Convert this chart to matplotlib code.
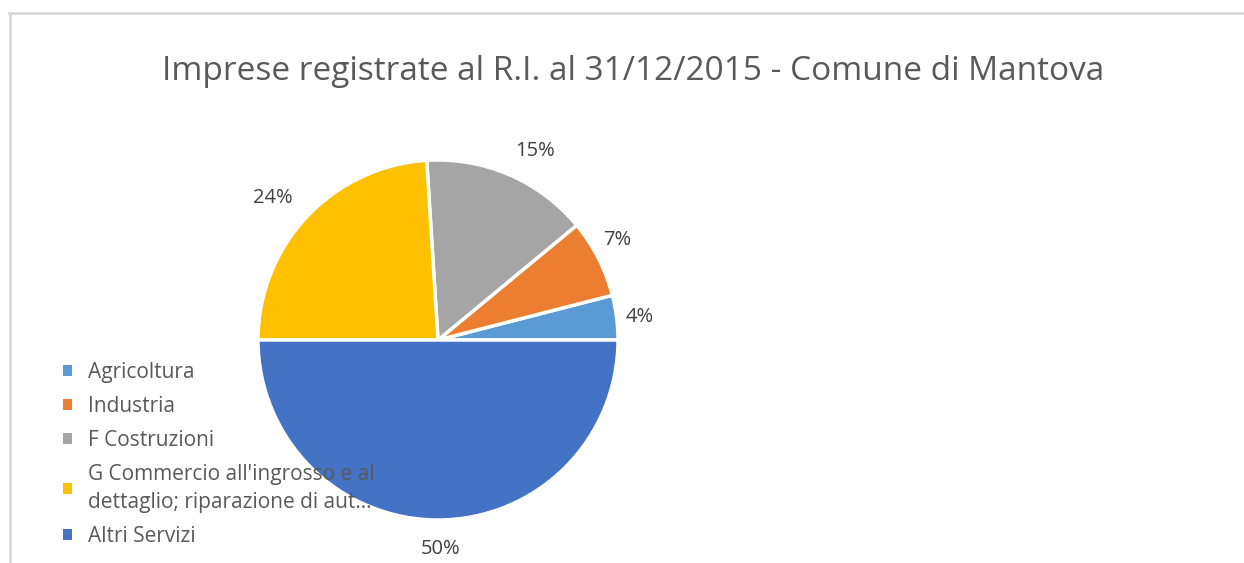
import matplotlib.pyplot as plt
from matplotlib.lines import Line2D
from matplotlib.patches import Patch

# Data
categories = ["Agricoltura", "Industria", "F Costruzioni",
              "G Commercio all'ingrosso e al\ndettaglio; riparazione di aut...",
              "Altri Servizi"]
shares = [4, 7, 15, 24, 50]
colors = ["#5B9BD5", "#ED7D31", "#A5A5A5", "#FFC000", "#4472C4"]

W, H = 1244, 563
fig = plt.figure(figsize=(W / 100, H / 100), dpi=100)
plt.rcParams['font.family'] = ['Open Sans', 'DejaVu Sans']

# chart border (top and left visible)
fig.add_artist(Line2D([9 / W, 1], [1 - 12.5 / H, 1 - 12.5 / H], color="#D9D9D9", lw=2, transform=fig.transFigure))
fig.add_artist(Line2D([9.5 / W, 9.5 / W], [0, 1 - 12.5 / H], color="#D9D9D9", lw=2, transform=fig.transFigure))

# pie axes: centre (438, 340), radius 180 px, limits +-1.25
cx, cy, r = 438, 340, 180
half = r * 1.25
ax = fig.add_axes([(cx - half) / W, (H - cy - half) / H, 2 * half / W, 2 * half / H])

wedges, texts, autotexts = ax.pie(
    shares, colors=colors, startangle=0, counterclock=True,
    autopct=lambda p: f"{p:.0f}%", pctdistance=1.14,
    wedgeprops=dict(edgecolor="white", linewidth=2.5),
    textprops=dict(color="#404040", fontsize=14.5))
ax.set_aspect('equal')

# nudge labels toward the "best fit" spots (pixels)
nudges = [(-2, -3), (-4, 7), (16, 1), (-16, 2), (3, -4)]
for t, (dx, dy) in zip(autotexts, nudges):
    x, y = t.get_position()
    t.set_position((x + dx / r, y + dy / r))

# title
fig.text(633 / W, 1 - 72 / H, "Imprese registrate al R.I. al 31/12/2015 - Comune di Mantova",
         ha="center", va="center", fontsize=24, color="#595959")

# legend
handles = [Patch(facecolor=c, edgecolor="none") for c in colors]
leg = fig.legend(handles, categories, loc="upper left",
                 bbox_to_anchor=(44 / W, 1 - 343 / H), frameon=False,
                 handlelength=0.45, handleheight=0.45, handletextpad=0.75,
                 labelspacing=0.62, fontsize=15, labelcolor="#595959")
for t in leg.get_texts():
    t.set_linespacing(1.45)

fig.savefig("out.png", dpi=100)
